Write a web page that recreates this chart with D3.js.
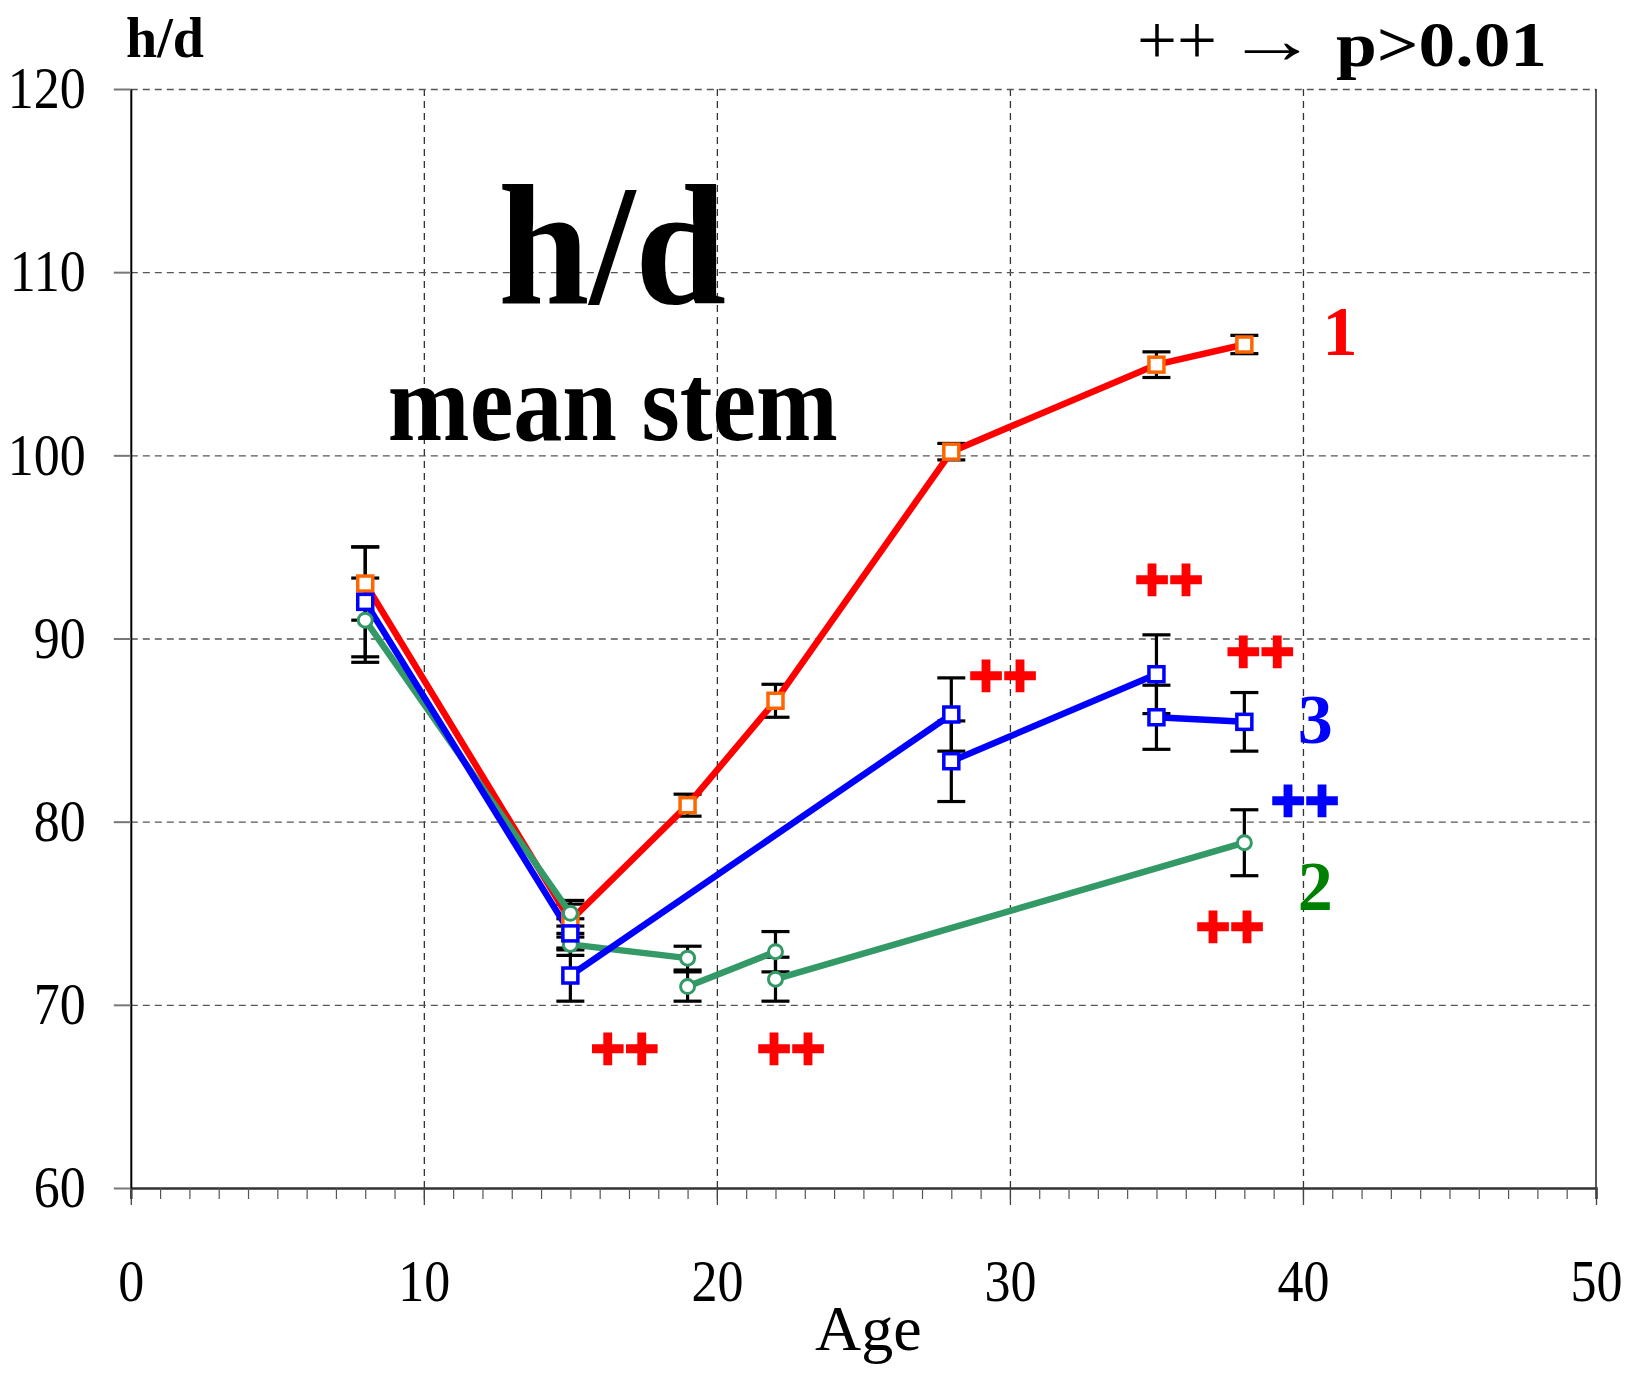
<!DOCTYPE html>
<html>
<head>
<meta charset="utf-8">
<script src="https://cdnjs.cloudflare.com/ajax/libs/d3/7.8.5/d3.min.js"></script>
<style>
  body { margin: 0; background: #fff; }
  svg { display: block; font-family: "Liberation Serif", "Times New Roman", serif; }
</style>
</head>
<body>
<svg id="chart" width="1641" height="1382"></svg>
<script>
// axis ticks
var xTicks = [0, 10, 20, 30, 40, 50];
var xMinorTicks = d3.range(0, 51);
var yTicks = [60, 70, 80, 90, 100, 110, 120];

// series 1 (red line, orange squares)
var ageS1  = [8, 15, 19, 22, 28, 35, 38];
var meanS1 = [93.0, 74.6, 80.9, 86.6, 100.2, 104.95, 106.05];
var errS1  = [2.0, 0.9, 0.6, 0.9, 0.45, 0.7, 0.5];

// series 2 (green circles), null = break in the line
var ageS2  = [8, 15, null, 15, 19, null, 19, 22, null, 22, 38];
var meanS2 = [91.0, 75.0, null, 73.3, 72.55, null, 71.0, 72.9, null, 71.4, 78.85];
var errS2  = [2.3, 0.7, null, 0.6, 0.65, null, 0.8, 1.1, null, 1.2, 1.8];

// series 3 (blue squares)
var ageS3  = [8, 15, null, 15, 28, null, 28, 35, null, 35, 38];
var meanS3 = [92.0, 73.9, null, 71.6, 85.85, null, 83.3, 88.05, null, 85.7, 85.45];
var errS3  = [3.0, 0.8, null, 1.4, 2.0, null, 2.2, 2.15, null, 1.75, 1.6];

// "++" significance marks (age, h/d) and which series they belong to
var plusAge    = [16.86, 22.53, 29.76, 35.43, 38.54, 40.07, 37.51];
var plusVal    = [67.6, 67.6, 87.95, 93.2, 89.25, 81.1, 74.25];
var plusSeries = [1, 1, 1, 1, 1, 3, 1];

// series numbers at the right end
var seriesName = ["1", "3", "2"];
var seriesNameAge = [41.26, 40.42, 40.42];
var seriesNameVal = [105.5, 84.3, 75.2];

var colors = {1: "#ff0000", 2: "#339966", 3: "#0000ff"};
var nameColors = {1: "#ff0000", 2: "#008000", 3: "#0000ff"};

var svg = d3.select("#chart");
var plotLeft = 130.8, plotRight = 1596, plotTop = 89, plotBottom = 1188;
var stretch = 1.13; // tick labels are a bit taller than normal Times

var x = d3.scaleLinear().domain([0, 50]).range([plotLeft, plotRight]);
var y = d3.scaleLinear().domain([60, 120]).range([plotBottom, plotTop]);

function toPoints(ages, means, errs) {
  return ages.map(function(a, i) {
    return a == null ? null : {age: a, mean: means[i], err: errs[i]};
  });
}
var s1 = toPoints(ageS1, meanS1, errS1);
var s2 = toPoints(ageS2, meanS2, errS2);
var s3 = toPoints(ageS3, meanS3, errS3);

// grid
svg.append("g")
  .attr("transform", "translate(0," + plotBottom + ")")
  .call(d3.axisBottom(x).tickValues([10, 20, 30, 40]).tickSize(-(plotBottom - plotTop)).tickFormat(""))
  .call(function(g) { g.select(".domain").remove(); })
  .selectAll("line")
    .attr("stroke", "#333").attr("stroke-width", 1.3).attr("stroke-dasharray", "7,5");

svg.append("g")
  .attr("transform", "translate(" + plotLeft + ",0)")
  .call(d3.axisLeft(y).tickValues([70, 80, 90, 100, 110, 120]).tickSize(-(plotRight - plotLeft)).tickFormat(""))
  .call(function(g) { g.select(".domain").remove(); })
  .selectAll("line")
    .attr("stroke", "#555").attr("stroke-width", 1.3).attr("stroke-dasharray", "7,5");

// right border
svg.append("line")
  .attr("x1", x(50)).attr("x2", x(50)).attr("y1", y(120)).attr("y2", y(60))
  .attr("stroke", "#222").attr("stroke-width", 1.5);

// x axis: minor ticks then major ticks with labels
svg.append("g")
  .attr("transform", "translate(0," + plotBottom + ")")
  .call(d3.axisBottom(x).tickValues(xMinorTicks).tickSize(11).tickFormat(""))
  .call(function(g) {
    g.select(".domain").attr("stroke", "#333").attr("stroke-width", 2.5);
    g.selectAll("line").attr("stroke", "#555").attr("stroke-width", 1.2);
  });

var xAxis = svg.append("g")
  .attr("transform", "translate(0," + plotBottom + ")")
  .call(d3.axisBottom(x).tickValues(xTicks).tickSize(17).tickSizeOuter(0));
xAxis.select(".domain").remove();
xAxis.selectAll("line").attr("stroke", "#444").attr("stroke-width", 1.3);
xAxis.selectAll("text")
  .attr("font-family", "Liberation Serif").attr("font-size", 52).attr("fill", "#000")
  .attr("y", 63).attr("transform", "scale(1," + stretch + ")");

// y axis
var yAxis = svg.append("g")
  .attr("transform", "translate(" + plotLeft + ",0)")
  .call(d3.axisLeft(y).tickValues(yTicks).tickSize(17).tickPadding(28).tickSizeOuter(0));
yAxis.select(".domain").attr("stroke", "#000").attr("stroke-width", 2);
yAxis.selectAll("line").attr("stroke", "#777").attr("stroke-width", 2);
yAxis.selectAll("text")
  .attr("font-family", "Liberation Serif").attr("font-size", 52).attr("fill", "#000")
  .attr("transform", "scale(1," + stretch + ")");

// error bars
var capHalf = 14;
function errorBars(pts) {
  var g = svg.append("g").attr("stroke", "#000").attr("stroke-width", 3.2);
  var d = pts.filter(function(p) { return p; });
  g.selectAll(".stem").data(d).enter().append("line")
    .attr("x1", function(p) { return x(p.age); }).attr("x2", function(p) { return x(p.age); })
    .attr("y1", function(p) { return y(p.mean + p.err); })
    .attr("y2", function(p) { return y(p.mean - p.err); });
  [1, -1].forEach(function(sign) {
    g.selectAll(".cap" + sign).data(d).enter().append("line")
      .attr("x1", function(p) { return x(p.age) - capHalf; })
      .attr("x2", function(p) { return x(p.age) + capHalf; })
      .attr("y1", function(p) { return y(p.mean + sign * p.err); })
      .attr("y2", function(p) { return y(p.mean + sign * p.err); });
  });
}
errorBars(s1); errorBars(s2); errorBars(s3);

// lines
var line = d3.line()
  .defined(function(p) { return p; })
  .x(function(p) { return x(p.age); })
  .y(function(p) { return y(p.mean); });

[[s1, 1], [s2, 2], [s3, 3]].forEach(function(s) {
  svg.append("path")
    .attr("d", line(s[0]))
    .attr("fill", "none")
    .attr("stroke", colors[s[1]])
    .attr("stroke-width", 6.5)
    .attr("stroke-linejoin", "round");
});

// markers
function squares(pts, color) {
  svg.append("g").selectAll("rect").data(pts.filter(function(p) { return p; })).enter()
    .append("rect")
      .attr("x", function(p) { return x(p.age) - 7.5; })
      .attr("y", function(p) { return y(p.mean) - 7.5; })
      .attr("width", 15).attr("height", 15)
      .attr("fill", "#fff").attr("stroke", color).attr("stroke-width", 3.5);
}
squares(s1, "#ff6600");
svg.append("g").selectAll("circle").data(s2.filter(function(p) { return p; })).enter()
  .append("circle")
    .attr("cx", function(p) { return x(p.age); })
    .attr("cy", function(p) { return y(p.mean); })
    .attr("r", 7)
    .attr("fill", "#fff").attr("stroke", colors[2]).attr("stroke-width", 3);
squares(s3, "#0000ff");

// "++" marks
var plusSize = 60;
svg.append("g").selectAll("text").data(plusAge).enter().append("text")
  .attr("x", function(a) { return x(a); })
  .attr("y", function(a, i) { return y(plusVal[i]) + plusSize * 0.33; })
  .attr("text-anchor", "middle")
  .attr("font-family", "Liberation Sans")
  .attr("font-size", plusSize).attr("font-weight", "bold")
  .attr("textLength", 68).attr("lengthAdjust", "spacingAndGlyphs")
  .attr("fill", function(a, i) { return colors[plusSeries[i]]; })
  .attr("stroke", function(a, i) { return colors[plusSeries[i]]; })
  .attr("stroke-width", 2.5)
  .text("++");

// series numbers
svg.append("g").selectAll("text").data(seriesName).enter().append("text")
  .attr("x", function(t, i) { return x(seriesNameAge[i]); })
  .attr("y", function(t, i) { return y(seriesNameVal[i]); })
  .attr("text-anchor", "middle")
  .attr("font-size", 70).attr("font-weight", "bold")
  .attr("fill", function(t) { return nameColors[t]; })
  .text(function(t) { return t; });

// big title inside the plot
svg.append("text")
  .attr("x", x(16.43)).attr("y", y(108.32))
  .attr("text-anchor", "middle")
  .attr("font-size", 172).attr("font-weight", "bold")
  .attr("textLength", 228).attr("lengthAdjust", "spacingAndGlyphs")
  .text("h/d");
svg.append("text")
  .attr("x", x(16.45)).attr("y", y(100.84))
  .attr("text-anchor", "middle")
  .attr("font-size", 110).attr("font-weight", "bold")
  .attr("textLength", 450).attr("lengthAdjust", "spacingAndGlyphs")
  .text("mean stem");

// axis titles and legend note
svg.append("text")
  .attr("x", 126).attr("y", 57)
  .attr("font-size", 56).attr("font-weight", "bold")
  .text("h/d");

svg.append("text")
  .attr("x", x(25) + 5).attr("y", 1350)
  .attr("text-anchor", "middle")
  .attr("font-size", 64)
  .text("Age");

svg.append("text")
  .attr("x", 1137).attr("y", 64)
  .attr("font-size", 70)
  .attr("textLength", 80).attr("lengthAdjust", "spacingAndGlyphs")
  .text("++");
svg.append("text")
  .attr("x", 1226).attr("y", 63)
  .attr("font-size", 68)
  .attr("textLength", 92).attr("lengthAdjust", "spacingAndGlyphs")
  .text("\u2192");
svg.append("text")
  .attr("x", 1336).attr("y", 66)
  .attr("font-size", 64).attr("font-weight", "bold")
  .attr("textLength", 211).attr("lengthAdjust", "spacingAndGlyphs")
  .text("p>0.01");
</script>
</body>
</html>
